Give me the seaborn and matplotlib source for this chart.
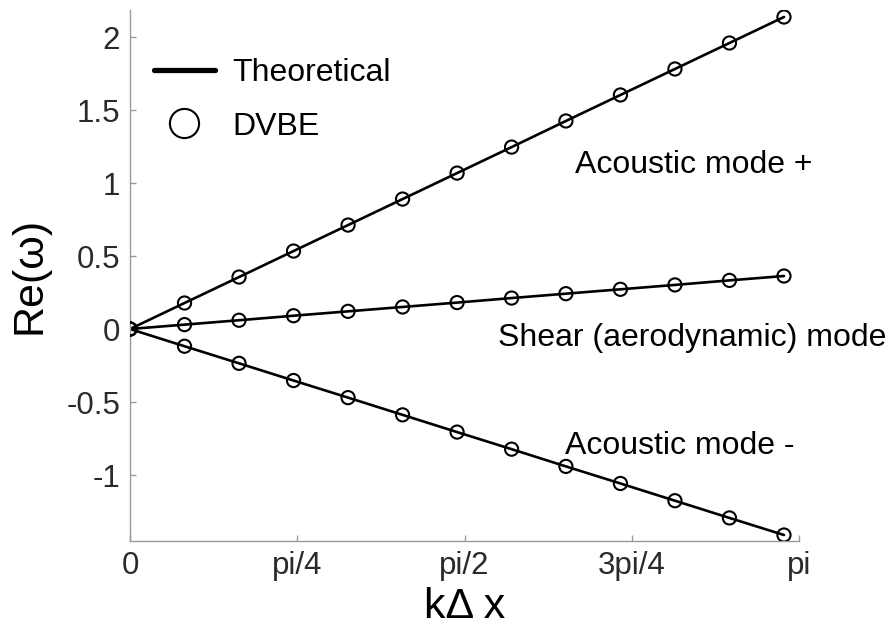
import numpy as np
import pandas as pd
import matplotlib
matplotlib.use("Agg")
import matplotlib.pyplot as plt
from matplotlib.lines import Line2D
import seaborn as sns

# wavenumber samples k*dx
k_dx = [0.0, 0.256, 0.512, 0.768, 1.024, 1.280, 1.536, 1.792, 2.047, 2.303, 2.559, 2.815, 3.071]

# real part of the frequency for each branch
acoustic_plus = [0.0, 0.178, 0.356, 0.534, 0.712, 0.890, 1.068, 1.246, 1.425, 1.603, 1.781, 1.959, 2.137]
shear = [0.0, 0.030, 0.060, 0.091, 0.121, 0.151, 0.181, 0.212, 0.242, 0.272, 0.302, 0.333, 0.363]
acoustic_minus = [0.0, -0.118, -0.235, -0.353, -0.470, -0.588, -0.706, -0.823, -0.941, -1.058, -1.176, -1.294, -1.411]

mode_names = ["Acoustic mode +", "Shear (aerodynamic) mode", "Acoustic mode -"]
legend_labels = ["Theoretical", "DVBE"]

x_ticks = [0, np.pi / 4, np.pi / 2, 3 * np.pi / 4, np.pi]
x_tick_labels = ["0", "pi/4", "pi/2", "3pi/4", "pi"]
y_ticks = [-1, -0.5, 0, 0.5, 1, 1.5, 2]
y_tick_labels = ["-1", "-0.5", "0", "0.5", "1", "1.5", "2"]

df = pd.DataFrame({
    "k": k_dx * 3,
    "omega": acoustic_plus + shear + acoustic_minus,
    "mode": [m for m in mode_names for _ in k_dx],
})

sns.set_style("ticks")
plt.rcParams["font.family"] = ["Liberation Sans", "DejaVu Sans"]
plt.rcParams["text.color"] = "black"

fig = plt.figure(figsize=(8.86, 6.26), dpi=100)
ax = fig.add_axes([130 / 886, 1 - 541 / 626, 669 / 886, 531 / 626])

palette = {m: "black" for m in mode_names}

# theoretical dispersion lines
sns.lineplot(data=df, x="k", y="omega", hue="mode", palette=palette,
             linewidth=1.9, legend=False, ax=ax, zorder=2)
# DVBE samples as open circles
sns.scatterplot(data=df, x="k", y="omega", hue="mode", palette=palette,
                marker="o", s=90, facecolors="none", linewidth=1.5,
                legend=False, ax=ax, zorder=3)
for coll in ax.collections:
    coll.set_facecolor("none")
    coll.set_edgecolor("black")

ax.set_xlim(0, np.pi)
ax.set_ylim(-1.452, 2.185)
ax.set_xticks(x_ticks)
ax.set_xticklabels(x_tick_labels)
ax.set_yticks(y_ticks)
ax.set_yticklabels(y_tick_labels)

sns.despine(ax=ax)
for side in ["left", "bottom"]:
    ax.spines[side].set_color("#9a9a9a")
    ax.spines[side].set_linewidth(1.0)
ax.tick_params(direction="in", length=4, width=1, color="#9a9a9a",
               labelcolor="#2a2a2a", labelsize=22.5, pad=7)

ax.set_xlabel("k\u0394 x", fontsize=31, color="black")
ax.set_ylabel("Re(\u03c9)", fontsize=31, color="black")
ax.xaxis.set_label_coords(0.5, -0.087)
ax.yaxis.set_label_coords(-0.12, 0.5)

# branch annotations
ax.text(2.090, 1.125, mode_names[0], fontsize=23, ha="left", va="center", color="black")
ax.text(1.728, -0.062, mode_names[1], fontsize=23, ha="left", va="center", color="black")
ax.text(2.043, -0.800, mode_names[2], fontsize=23, ha="left", va="center", color="black")

handles = [
    Line2D([], [], color="black", linewidth=3.8),
    Line2D([], [], color="black", marker="o", linestyle="none",
           markerfacecolor="none", markeredgewidth=1.5, markersize=21),
]
leg = ax.legend(handles, legend_labels, loc="upper left",
                bbox_to_anchor=(24 / 669, 1 - 48 / 531), frameon=False,
                fontsize=23, handlelength=1.9, handletextpad=0.55,
                labelspacing=0.74, borderpad=0, borderaxespad=0)
for t in leg.get_texts():
    t.set_color("black")

fig.savefig("out.png", dpi=100)
